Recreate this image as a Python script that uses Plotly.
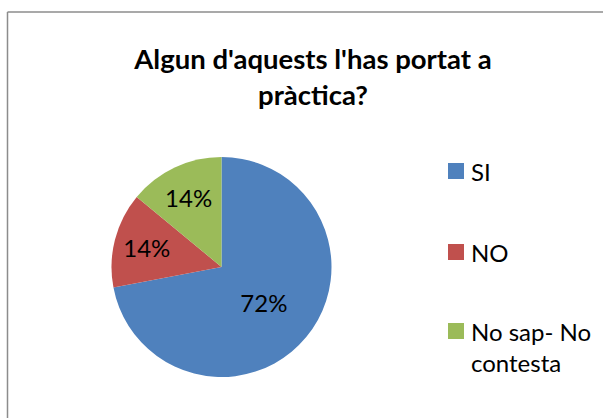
import plotly.graph_objects as go

labels = ["SI", "NO", "No sap- No contesta"]
legend_text = ["SI", "NO", "No sap- No<br>contesta"]
values = [72, 14, 14]
colors = ["#4F81BD", "#C0504D", "#9BBB59"]

W, H = 603, 418

fig = go.Figure(go.Pie(
    labels=labels,
    values=values,
    sort=False,
    direction="clockwise",
    rotation=0,
    marker=dict(colors=colors, line=dict(width=0)),
    texttemplate="%{percent:.0%}",
    textposition="inside",
    insidetextorientation="horizontal",
    textfont=dict(family="Lato", size=24, color="black"),
    hoverinfo="label+percent",
    showlegend=False,
    domain=dict(x=[111.5 / W, 331.5 / W], y=[1 - 377 / H, 1 - 157 / H]),
))

# legend drawn by hand so the spacing matches the original
leg_y = [171, 252, 331]
for txt, col, y in zip(legend_text, colors, leg_y):
    fig.add_shape(type="rect", xref="paper", yref="paper",
                  x0=448 / W, x1=464 / W, y0=1 - (y + 8) / H, y1=1 - (y - 8) / H,
                  fillcolor=col, line=dict(width=0))
    fig.add_annotation(x=469 / W, y=1 - (y - 16) / H, xref="paper", yref="paper",
                       text=txt, showarrow=False, xanchor="left", yanchor="top",
                       align="left", font=dict(family="Lato", size=24, color="black"))

# chart border (only top and left edges are visible in the crop)
fig.add_shape(type="line", xref="paper", yref="paper",
              x0=7.5 / W, x1=1.0, y0=1 - 12 / H, y1=1 - 12 / H,
              line=dict(color="#8c8c8c", width=1.5))
fig.add_shape(type="line", xref="paper", yref="paper",
              x0=7.5 / W, x1=7.5 / W, y0=0, y1=1 - 12 / H,
              line=dict(color="#8c8c8c", width=1.5))

fig.update_layout(
    width=W, height=H,
    margin=dict(l=0, r=0, t=0, b=0),
    paper_bgcolor="white",
    plot_bgcolor="white",
    title=dict(text="<b>Algun d'aquests l'has portat a<br>pràctica?</b>",
               x=313 / W, xanchor="center", y=1 - 69 / H, yanchor="middle",
               font=dict(family="Lato", size=27.5, color="black")),
)

fig.write_html("out.html", config={"displayModeBar": False},
               post_script="document.body.style.margin='0';")
